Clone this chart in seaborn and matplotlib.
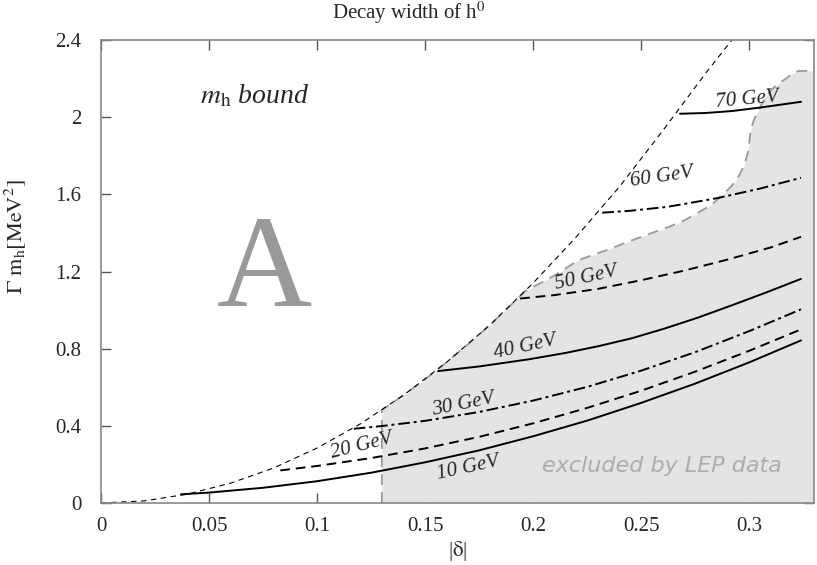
import matplotlib
matplotlib.use("Agg")
import matplotlib.pyplot as plt
import seaborn as sns

# upper dashed bound (m_h bound)
bound_x = [0, 0.02, 0.04, 0.06, 0.08, 0.10, 0.12, 0.14, 0.16, 0.18, 0.20, 0.22, 0.24, 0.26, 0.28, 0.292]
bound_y = [0, 0.011, 0.046, 0.103, 0.182, 0.285, 0.41, 0.559, 0.730, 0.923, 1.14, 1.38, 1.64, 1.93, 2.23, 2.40]

# LEP exclusion edge
lep_x = [0.13, 0.13, 0.14, 0.15, 0.16, 0.17, 0.18, 0.19, 0.196, 0.21, 0.221, 0.235, 0.246, 0.255, 0.263,
         0.270, 0.277, 0.283, 0.288, 0.292, 0.2955, 0.298, 0.2995, 0.3007, 0.302, 0.304, 0.3076, 0.311,
         0.3138, 0.317, 0.32, 0.323, 0.33]
lep_y = [0, 0.482, 0.559, 0.641, 0.730, 0.824, 0.923, 1.029, 1.095, 1.18, 1.259, 1.315, 1.363, 1.40, 1.432,
         1.465, 1.509, 1.55, 1.60, 1.645, 1.70, 1.76, 1.82, 1.93, 1.98, 2.03, 2.105, 2.15,
         2.175, 2.20, 2.226, 2.24, 2.24]

# Higgs mass curves
m10_x = [0.037, 0.05, 0.075, 0.1, 0.125, 0.15, 0.175, 0.2, 0.225, 0.25, 0.275, 0.3, 0.324]
m10_y = [0.045, 0.054, 0.079, 0.113, 0.157, 0.211, 0.273, 0.346, 0.427, 0.519, 0.619, 0.729, 0.843]
m20_x = [0.083, 0.1, 0.125, 0.15, 0.175, 0.2, 0.225, 0.25, 0.275, 0.3, 0.324]
m20_y = [0.169, 0.192, 0.233, 0.283, 0.343, 0.413, 0.493, 0.582, 0.681, 0.789, 0.900]
m30_x = [0.117, 0.13, 0.15, 0.175, 0.2, 0.225, 0.25, 0.275, 0.3, 0.324]
m30_y = [0.385, 0.399, 0.426, 0.472, 0.531, 0.602, 0.686, 0.782, 0.891, 1.004]
m40_x = [0.156, 0.175, 0.198, 0.215, 0.231, 0.246, 0.261, 0.276, 0.292, 0.308, 0.324]
m40_y = [0.684, 0.708, 0.745, 0.778, 0.815, 0.855, 0.905, 0.96, 1.025, 1.092, 1.162]
m50_x = [0.194, 0.21, 0.23, 0.25, 0.27, 0.29, 0.31, 0.324]
m50_y = [1.06, 1.078, 1.11, 1.155, 1.205, 1.262, 1.325, 1.38]
m60_x = [0.232, 0.245, 0.262, 0.285, 0.305, 0.324]
m60_y = [1.505, 1.515, 1.535, 1.58, 1.63, 1.686]
m70_x = [0.268, 0.28, 0.292, 0.305, 0.324]
m70_y = [2.018, 2.022, 2.032, 2.05, 2.08]

masses = ["10 GeV", "20 GeV", "30 GeV", "40 GeV", "50 GeV", "60 GeV", "70 GeV"]
label_x = [0.170, 0.1206, 0.1677, 0.1964, 0.2246, 0.2597, 0.299]
label_y = [0.181, 0.295, 0.508, 0.808, 1.166, 1.689, 2.088]
label_rot = [12, 14, 11, 12, 12, 8, 5]

x_ticks = [0, 0.05, 0.1, 0.15, 0.2, 0.25, 0.3]
x_ticklabels = ["0", "0.05", "0.1", "0.15", "0.2", "0.25", "0.3"]
y_ticks = [0, 0.4, 0.8, 1.2, 1.6, 2.0, 2.4]
y_ticklabels = ["0", "0.4", "0.8", "1.2", "1.6", "2", "2.4"]

sns.set_style("ticks")
plt.rcParams['font.family'] = ['Liberation Serif', 'DejaVu Serif']
plt.rcParams['mathtext.fontset'] = 'stix'

fig = plt.figure(figsize=(8.17, 5.65), dpi=100)
ax = fig.add_axes([0.1236, 0.1097, 0.8727, 0.8194])


def draw(x, y, dashes=None, **kw):
    sns.lineplot(x=x, y=y, sort=False, estimator=None, ax=ax, **kw)
    if dashes is not None:
        ax.lines[-1].set_dashes(dashes)


# shaded LEP region
ax.fill_between(lep_x[1:], 0, lep_y[1:], color='#e4e4e4', lw=0, zorder=1)
draw(lep_x, lep_y, (6, 4), color='#999999', lw=1.3, zorder=2)

draw(bound_x, bound_y, (5, 4), color='black', lw=0.8, zorder=3)

curves = [(m10_x, m10_y, None), (m20_x, m20_y, (5, 3)), (m30_x, m30_y, (6, 2, 1.5, 2)),
          (m40_x, m40_y, None), (m50_x, m50_y, (5, 3)), (m60_x, m60_y, (6, 2, 1.5, 2)),
          (m70_x, m70_y, None)]
for cx, cy, ds in curves:
    draw(cx, cy, ds, color='black', lw=1.4, zorder=4)

for name, lx, ly, rot in zip(masses, label_x, label_y, label_rot):
    ax.text(lx, ly, name, fontsize=15, style='italic', rotation=rot,
            ha='center', va='center', rotation_mode='anchor', zorder=5)

ax.text(0.0712, 2.109, r'$m_{\mathrm{h}}$ bound', fontsize=20, style='italic',
        ha='center', va='center')
ax.text(0.0758, 1.185, 'A', fontsize=95, color='#999999', ha='center', va='center')
ax.text(0.2597, 0.19, 'excluded by LEP data', fontsize=16, color='#adadad',
        family='DejaVu Sans', style='italic', ha='center', va='center', zorder=5)

ax.set_xlim(0, 0.33)
ax.set_ylim(0, 2.4)
ax.set_xticks(x_ticks)
ax.set_xticklabels(x_ticklabels)
ax.set_yticks(y_ticks)
ax.set_yticklabels(y_ticklabels)
ax.tick_params(direction='in', length=7, width=1, color='#555555', labelsize=15,
               top=True, right=True)
ax.tick_params(axis='x', pad=10)
ax.tick_params(axis='y', pad=14)
for sp in ax.spines.values():
    sp.set_color('#888888')
    sp.set_linewidth(1.2)
    sp.set_zorder(6)

ax.set_xlabel(r'|$\mathrm{\delta}$|', fontsize=15, labelpad=2)
ax.set_ylabel(r'$\Gamma\ \mathrm{m_h[MeV^2]}$', fontsize=16)
ax.yaxis.set_label_coords(-0.102, 0.575)
fig.text(0.5, 0.978, r'Decay width of h$^0$', fontsize=15, ha='center', va='center')

fig.savefig('out.png', dpi=100)
